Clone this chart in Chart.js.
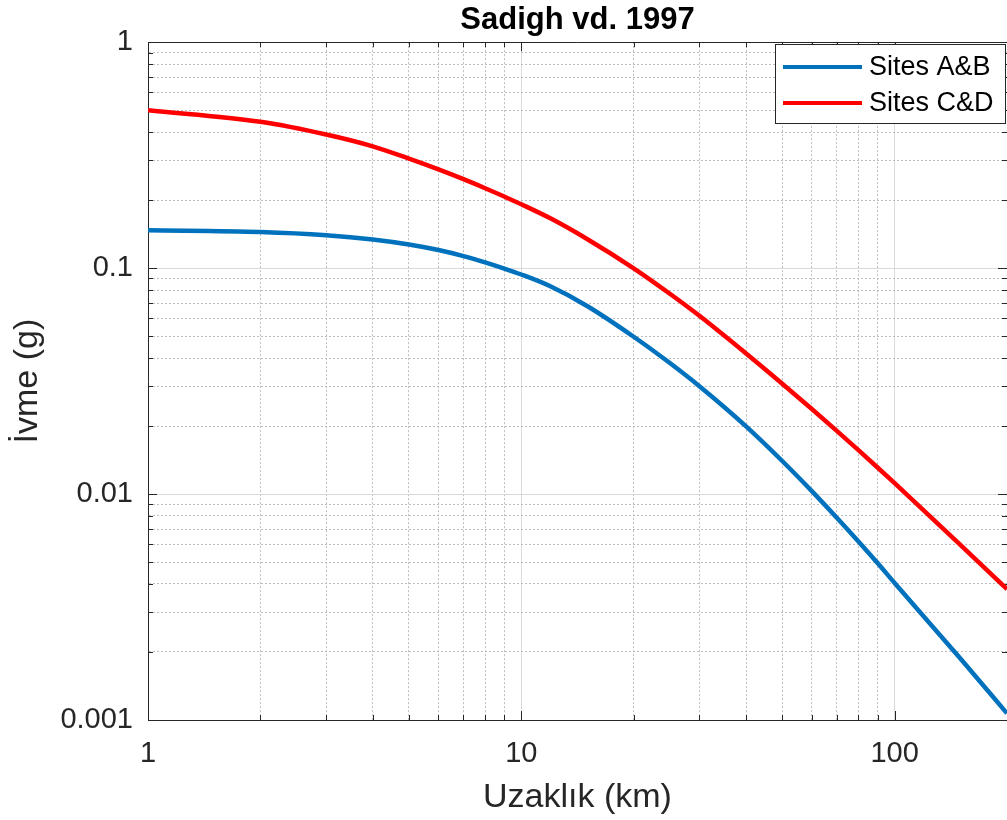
<!DOCTYPE html>
<html lang="tr">
<head>
<meta charset="utf-8">
<title>Sadigh vd. 1997</title>
<script src="https://cdn.jsdelivr.net/npm/chart.js@4/dist/chart.umd.min.js"></script>
<style>
    html, body { margin: 0; padding: 0; background: #fff; overflow: hidden; }
    canvas { display: block; }
</style>
</head>
<body>
<canvas id="chart" width="1007" height="820"></canvas>
<script>
// Uzaklık (km) ve ivme (g) değerleri
const distances = [1, 2, 3, 4, 5, 6, 7, 8, 9, 10, 12, 15, 20, 25, 30, 40, 50, 60, 70, 80, 90, 100, 150, 200];
const sitesAB = [0.147, 0.1445, 0.1399, 0.1340, 0.1273, 0.1203, 0.1131, 0.1061, 0.0996, 0.0937, 0.0829, 0.0680, 0.0497, 0.0380, 0.0300, 0.01993, 0.01401, 0.01031, 0.00786, 0.00617, 0.00495, 0.00404, 0.00187, 0.00107];
const sitesCD = [0.500, 0.4444, 0.3903, 0.3459, 0.3052, 0.2736, 0.2476, 0.2258, 0.2074, 0.1917, 0.1657, 0.1346, 0.0998, 0.0770, 0.0615, 0.0419, 0.0308, 0.0238, 0.01905, 0.01564, 0.01311, 0.01117, 0.00596, 0.00380];

// Izgara çizgileri ve eksen etiketleri
const xTickValues = [1, 2, 3, 4, 5, 6, 7, 8, 9, 10, 20, 30, 40, 50, 60, 70, 80, 90, 100, 200];
const yTickValues = [0.001, 0.002, 0.003, 0.004, 0.005, 0.006, 0.007, 0.008, 0.009,
                     0.01, 0.02, 0.03, 0.04, 0.05, 0.06, 0.07, 0.08, 0.09,
                     0.1, 0.2, 0.3, 0.4, 0.5, 0.6, 0.7, 0.8, 0.9, 1];
const xTickLabels = ['1', '10', '100'];
const yTickLabels = ['0.001', '0.01', '0.1', '1'];

const axisColor = '#262626';
const fontFamily = "'Liberation Sans', Arial, Helvetica, sans-serif";

function isMajor(value, labels) {
    return labels.includes(String(value));
}

function gridColor(labels) {
    return ctx => (ctx.tick && isMajor(ctx.tick.value, labels)) ? '#dadada' : '#bdbdbd';
}

function gridDash(labels) {
    return ctx => (ctx.tick && !isMajor(ctx.tick.value, labels)) ? [2, 2] : [];
}

// İçe dönük tik çizgileri ve üst çerçeve (MATLAB görünümü)
const innerTicks = {
    id: 'innerTicks',
    beforeDatasetsDraw(chart) {
        const { ctx, chartArea: a, scales: { x, y } } = chart;
        ctx.save();
        ctx.strokeStyle = axisColor;
        ctx.lineWidth = 1;
        ctx.beginPath();
        const top = Math.round(a.top) + 0.5;
        ctx.moveTo(a.left, top);
        ctx.lineTo(a.right, top);
        xTickValues.forEach(v => {
            const px = Math.round(x.getPixelForValue(v)) + 0.5;
            const len = isMajor(v, xTickLabels) ? 9 : 5;
            ctx.moveTo(px, a.bottom);
            ctx.lineTo(px, a.bottom - len);
            ctx.moveTo(px, a.top);
            ctx.lineTo(px, a.top + len);
        });
        yTickValues.forEach(v => {
            const py = Math.round(y.getPixelForValue(v)) + 0.5;
            const len = isMajor(v, yTickLabels) ? 9 : 5;
            ctx.moveTo(a.left, py);
            ctx.lineTo(a.left + len, py);
            ctx.moveTo(a.right, py);
            ctx.lineTo(a.right - len, py);
        });
        ctx.stroke();
        ctx.restore();
    }
};

// Çerçeveli lejant, sağ üst köşede
const boxLegend = {
    id: 'boxLegend',
    afterDraw(chart) {
        const { ctx, chartArea: a } = chart;
        const w = 231, h = 80;
        const right = a.right - 1;
        const left = right - w;
        const top = Math.round(a.top) + 2;
        ctx.save();
        ctx.fillStyle = '#fff';
        ctx.fillRect(left, top, w, h);
        ctx.strokeStyle = axisColor;
        ctx.lineWidth = 1;
        ctx.strokeRect(left + 0.5, top + 0.5, w - 1, h - 1);
        ctx.font = '27px ' + fontFamily;
        ctx.textBaseline = 'middle';
        ctx.textAlign = 'left';
        chart.data.datasets.forEach((ds, i) => {
            const rowY = top + 23 + i * 36;
            ctx.strokeStyle = ds.borderColor;
            ctx.lineWidth = 4;
            ctx.beginPath();
            ctx.moveTo(left + 8, rowY);
            ctx.lineTo(left + 87, rowY);
            ctx.stroke();
            ctx.fillStyle = '#000';
            ctx.fillText(ds.label, left + 94, rowY + 1);
        });
        ctx.restore();
    }
};

const ctx = document.getElementById('chart').getContext('2d');
const chart = new Chart(ctx, {
    type: 'line',
    data: {
        datasets: [{
            label: 'Sites A&B',
            data: distances.map((d, i) => ({ x: d, y: sitesAB[i] })),
            borderColor: '#0072BD',
            borderWidth: 4.5,
            pointRadius: 0,
            cubicInterpolationMode: 'monotone',
            fill: false
        }, {
            label: 'Sites C&D',
            data: distances.map((d, i) => ({ x: d, y: sitesCD[i] })),
            borderColor: '#FF0000',
            borderWidth: 4.5,
            pointRadius: 0,
            cubicInterpolationMode: 'monotone',
            fill: false
        }]
    },
    options: {
        responsive: false,
        animation: false,
        devicePixelRatio: 1,
        layout: { padding: 0 },
        plugins: {
            legend: { display: false },
            tooltip: { enabled: false },
            title: {
                display: true,
                fullSize: false,
                text: 'Sadigh vd. 1997',
                color: '#000',
                font: { family: fontFamily, size: 31, weight: 'bold', lineHeight: 1.2 },
                padding: { top: 2, bottom: 3 }
            }
        },
        scales: {
            x: {
                type: 'logarithmic',
                min: 1,
                max: 200,
                afterBuildTicks: s => { s.ticks = xTickValues.map(v => ({ value: v })); },
                afterFit: s => {
                    s.height = 100;
                    s.paddingLeft = 0;
                    s.paddingRight = 0;
                },
                ticks: {
                    autoSkip: false,
                    maxRotation: 0,
                    padding: 17,
                    color: axisColor,
                    font: { family: fontFamily, size: 29 },
                    callback: v => isMajor(v, xTickLabels) ? String(v) : ''
                },
                grid: { drawTicks: false, lineWidth: 1, color: gridColor(xTickLabels) },
                border: { color: axisColor, width: 1, dash: gridDash(xTickLabels) },
                title: {
                    display: true,
                    text: 'Uzaklık (km)',
                    color: axisColor,
                    font: { family: fontFamily, size: 34, lineHeight: 1.2 },
                    padding: { top: 0, bottom: 2 }
                }
            },
            y: {
                type: 'logarithmic',
                min: 0.001,
                max: 1,
                afterBuildTicks: s => { s.ticks = yTickValues.map(v => ({ value: v })); },
                afterFit: s => { s.width = 148; },
                ticks: {
                    autoSkip: false,
                    padding: 15,
                    color: axisColor,
                    font: { family: fontFamily, size: 29 },
                    callback: v => isMajor(v, yTickLabels) ? String(v) : ''
                },
                grid: { drawTicks: false, lineWidth: 1, color: gridColor(yTickLabels) },
                border: { color: axisColor, width: 1, dash: gridDash(yTickLabels) },
                title: {
                    display: true,
                    text: 'İvme (g)',
                    color: axisColor,
                    font: { family: fontFamily, size: 34, lineHeight: 1.2 },
                    padding: { top: 7, bottom: 0 }
                }
            }
        }
    },
    plugins: [innerTicks, boxLegend]
});
</script>
</body>
</html>
